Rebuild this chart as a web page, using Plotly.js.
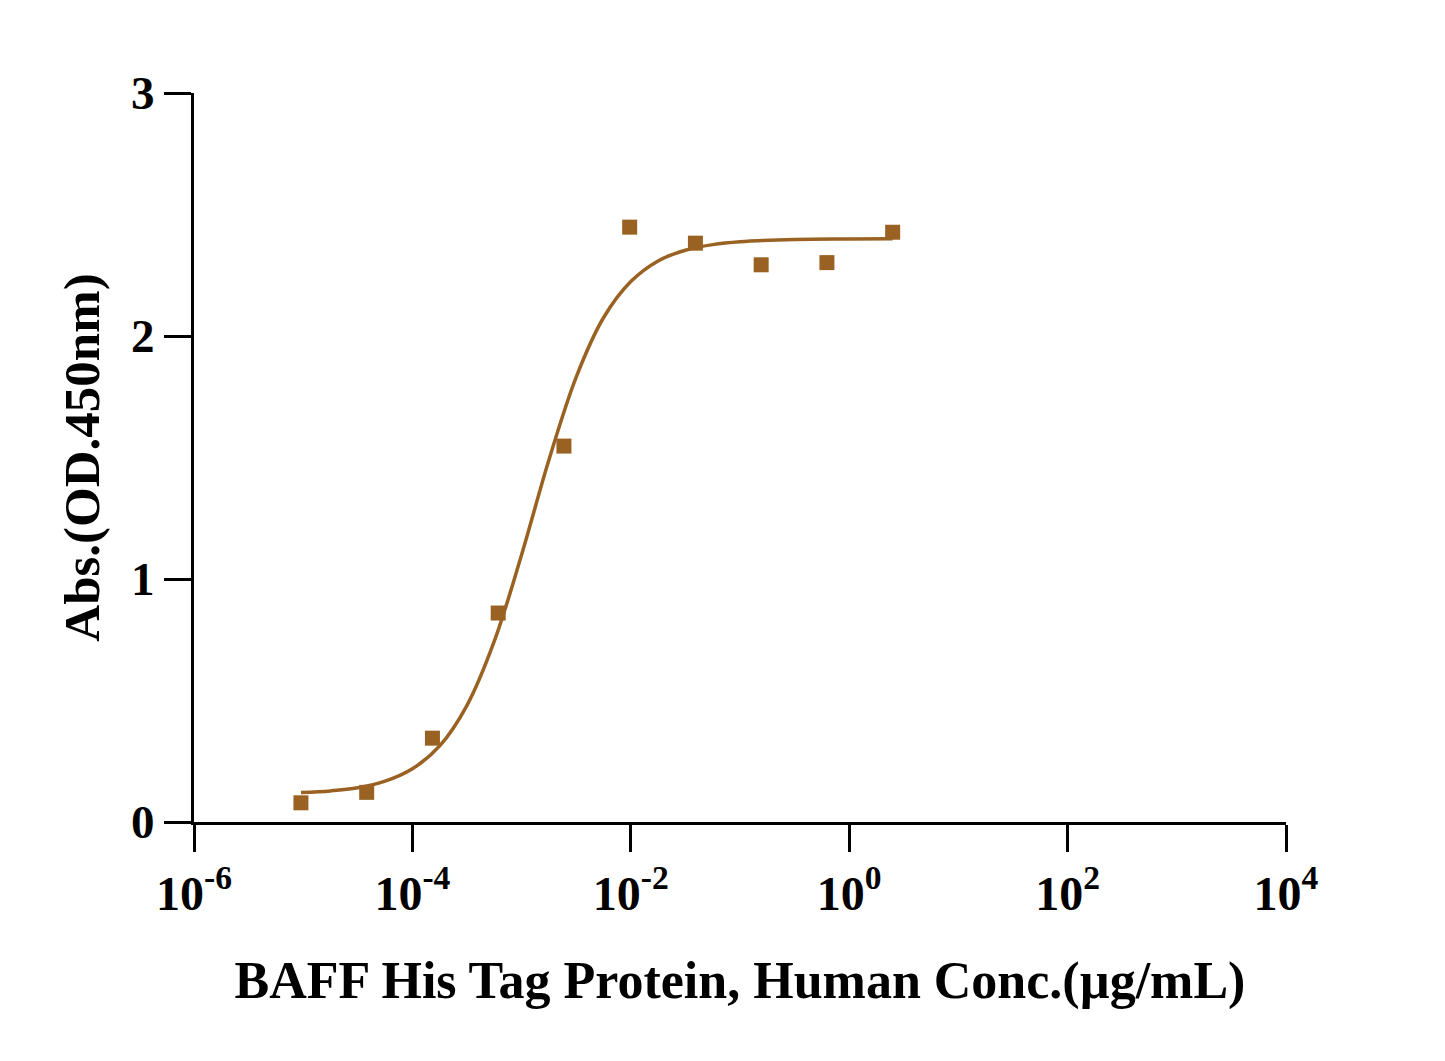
<!DOCTYPE html>
<html>
<head>
<meta charset="utf-8">
<script src="https://cdn.plot.ly/plotly-3.0.1.min.js"></script>
<style>
  html, body { margin: 0; padding: 0; background: #ffffff; }
  #chart { width: 1445px; height: 1061px; }
</style>
</head>
<body>
<div id="chart"></div>
<script>
// Measured points (4-fold dilution series, µg/mL)
const concentrations = [9.5367e-6, 3.8147e-5, 1.5259e-4, 6.1035e-4, 2.4414e-3, 9.7656e-3, 0.0390625, 0.15625, 0.625, 2.5];
const absorbance = [0.079, 0.122, 0.345, 0.860, 1.547, 2.448, 2.382, 2.293, 2.302, 2.427];

// Fitted curve
const curveX = [9.54e-6, 1.778e-5, 3.162e-5, 5.623e-5, 1.0e-4, 1.778e-4, 3.162e-4, 5.623e-4, 1.0e-3, 1.778e-3, 3.162e-3, 5.623e-3, 0.01, 0.01778, 0.03162, 0.05623, 0.1, 0.3162, 1.0, 2.5];
const curveY = [0.121, 0.128, 0.141, 0.168, 0.219, 0.313, 0.480, 0.744, 1.100, 1.490, 1.831, 2.075, 2.224, 2.309, 2.353, 2.376, 2.388, 2.397, 2.399, 2.400];

// Tick labels
const xTickVals = [1e-6, 1e-4, 1e-2, 1, 1e2, 1e4];
const xTickText = ['10<sup>-6</sup>', '10<sup>-4</sup>', '10<sup>-2</sup>', '10<sup>0</sup>', '10<sup>2</sup>', '10<sup>4</sup>'];
const yTickVals = [0, 1, 2, 3];
const yTickText = ['0', '1', '2', '3'];

const xTitle = 'BAFF His Tag Protein, Human Conc.(µg/mL)';
const yTitle = 'Abs.(OD.450nm)';

const color = '#996222';
const fontFamily = '"Liberation Serif", "Times New Roman", serif';

const traces = [
  {
    x: curveX, y: curveY, type: 'scatter', mode: 'lines',
    line: { color: color, width: 3.5, shape: 'spline', smoothing: 1 },
    hoverinfo: 'skip', showlegend: false
  },
  {
    x: concentrations, y: absorbance, type: 'scatter', mode: 'markers',
    marker: { symbol: 'square', size: 15, color: color },
    showlegend: false
  }
];

const layout = {
  width: 1445, height: 1061,
  paper_bgcolor: '#ffffff', plot_bgcolor: '#ffffff',
  margin: { l: 194, r: 159, t: 93, b: 239 },
  font: { family: fontFamily, color: '#000000' },
  showlegend: false,
  xaxis: {
    type: 'log', range: [-6, 4],
    tickvals: xTickVals, ticktext: xTickText,
    ticks: 'outside', ticklen: 27, tickwidth: 3, tickcolor: '#000',
    showline: true, linewidth: 3, linecolor: '#000',
    showgrid: false, zeroline: false,
    tickfont: { family: fontFamily, size: 48, color: '#000', weight: 'bold' },
    title: { text: '<b>' + xTitle + '</b>', font: { family: fontFamily, size: 52, color: '#000' }, standoff: 44 }
  },
  yaxis: {
    range: [0, 3],
    tickvals: yTickVals, ticktext: yTickText,
    ticks: 'outside', ticklen: 27, tickwidth: 3, tickcolor: '#000',
    showline: true, linewidth: 3, linecolor: '#000',
    showgrid: false, zeroline: false,
    tickfont: { family: fontFamily, size: 47, color: '#000', weight: 'bold' },
    title: { text: '<b>' + yTitle + '</b>', font: { family: fontFamily, size: 51, color: '#000' }, standoff: 16 }
  }
};

Plotly.newPlot('chart', traces, layout, { displayModeBar: false, staticPlot: true });
</script>
</body>
</html>
